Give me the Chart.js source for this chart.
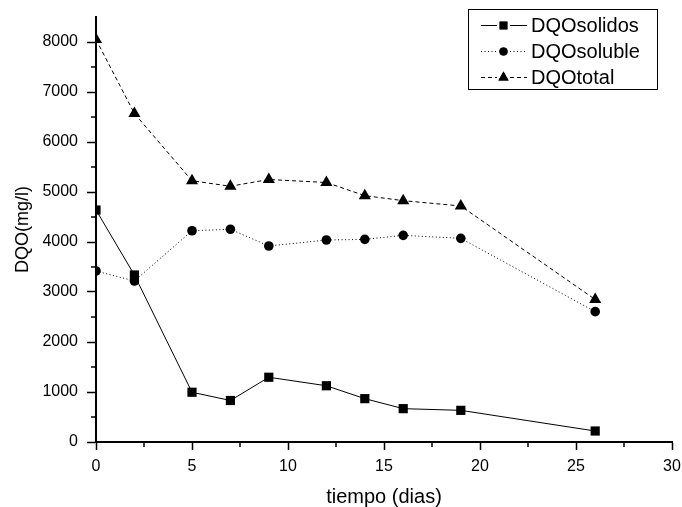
<!DOCTYPE html>
<html><head><meta charset="utf-8">
<script src="https://cdn.jsdelivr.net/npm/chart.js@4"></script>
<style>html,body{margin:0;padding:0;background:#fff;}#wrap{width:682px;height:507px;position:relative;}</style>
</head><body><div id="wrap"><canvas id="c"></canvas></div>
<script>
const days = [0, 2, 5, 7, 9, 12, 14, 16, 19, 26];
const dqoSolidos = [4640, 3340, 995, 830, 1295, 1125, 867, 667, 633, 220];
const dqoSoluble = [3420, 3220, 4225, 4255, 3920, 4040, 4053, 4133, 4073, 2607];
const dqoTotal = [8050, 6570, 5225, 5115, 5250, 5190, 4927, 4827, 4720, 2850];
const seriesNames = ['DQOsolidos', 'DQOsoluble', 'DQOtotal'];
const xTickValues = [0, 5, 10, 15, 20, 25, 30];
const yTickValues = [0, 1000, 2000, 3000, 4000, 5000, 6000, 7000, 8000];
const xTitle = 'tiempo (dias)';
const yTitle = 'DQO(mg/l)';

const FONT = "'Liberation Sans', Arial, sans-serif";
const toPts = ys => days.map((d, i) => ({x: d, y: ys[i]}));

const minorTicks = {
  id: 'minorTicks',
  afterDraw(chart) {
    const ctx = chart.ctx, xs = chart.scales.x, ys = chart.scales.y;
    const ca = chart.chartArea;
    ctx.save();
    ctx.strokeStyle = '#000';
    ctx.lineWidth = 1.5;
    ctx.beginPath();
    for (let v = 2.5; v < 30; v += 5) {
      const px = Math.round(xs.getPixelForValue(v));
      ctx.moveTo(px, ca.bottom); ctx.lineTo(px, ca.bottom + 5);
    }
    for (let v = 500; v < 8500; v += 1000) {
      const py = Math.round(ys.getPixelForValue(v));
      ctx.moveTo(ca.left, py); ctx.lineTo(ca.left - 5, py);
    }
    ctx.stroke();
    ctx.restore();
  }
};

const legendBox = {
  id: 'legendBox',
  afterDraw(chart) {
    const ctx = chart.ctx;
    ctx.save();
    const bx = 468.5, by = 9.5, bw = 189, bh = 80;
    ctx.fillStyle = '#fff';
    ctx.fillRect(bx, by, bw, bh);
    ctx.strokeStyle = '#000';
    ctx.lineWidth = 1;
    ctx.strokeRect(bx, by, bw, bh);
    const rows = [25, 51, 77];
    chart.data.datasets.forEach((ds, i) => {
      const y = rows[i] + 0.5;
      ctx.strokeStyle = '#000';
      ctx.lineWidth = 1;
      ctx.setLineDash(ds.borderDash || []);
      ctx.beginPath();
      ctx.moveTo(481, y); ctx.lineTo(497, y);
      ctx.moveTo(510, y); ctx.lineTo(527, y);
      ctx.stroke();
      ctx.setLineDash([]);
      ctx.fillStyle = '#000';
      Chart.helpers.drawPoint(ctx, {pointStyle: ds.pointStyle, radius: ds.pointRadius * 0.85, borderWidth: 0}, 503.5, y);
      ctx.fill();
      ctx.fillStyle = '#000';
      ctx.font = '20px ' + FONT;
      ctx.textBaseline = 'middle';
      ctx.textAlign = 'left';
      ctx.fillText(ds.label, 531, y + 1);
    });
    ctx.restore();
  }
};

new Chart(document.getElementById('c'), {
  type: 'line',
  data: {
    datasets: [
      {label: seriesNames[0], data: toPts(dqoSolidos), borderColor: '#000', backgroundColor: '#000', borderWidth: 1,
       pointStyle: 'rect', pointRadius: 6.5, pointBorderWidth: 0, tension: 0},
      {label: seriesNames[1], data: toPts(dqoSoluble), borderColor: '#000', backgroundColor: '#000', borderWidth: 1,
       borderDash: [1, 2.5], pointStyle: 'circle', pointRadius: 4.8, pointBorderWidth: 0, tension: 0},
      {label: seriesNames[2], data: toPts(dqoTotal), borderColor: '#000', backgroundColor: '#000', borderWidth: 1,
       borderDash: [4, 3], pointStyle: 'triangle', pointRadius: 7, pointBorderWidth: 0, tension: 0}
    ]
  },
  options: {
    responsive: true,
    maintainAspectRatio: false,
    animation: false,
    events: [],
    layout: {padding: {top: 17, right: 10, left: 0, bottom: 0}},
    plugins: {legend: {display: false}, tooltip: {enabled: false}},
    scales: {
      x: {
        type: 'linear', min: 0, max: 30,
        afterBuildTicks: s => { s.ticks = xTickValues.map(v => ({value: v})); },
        afterFit: s => { s.height = 65; s.paddingRight = 0; s.paddingLeft = 0; },
        grid: {drawOnChartArea: false, tickLength: 8, tickColor: '#000', tickWidth: 1.5},
        border: {display: true, color: '#000', width: 2},
        ticks: {color: '#000', font: {family: FONT, size: 16}, padding: 7, maxRotation: 0,
                callback: v => String(v)},
        title: {display: true, text: xTitle, color: '#000', font: {family: FONT, size: 20, lineHeight: 1}, padding: {top: 0, bottom: 0}}
      },
      y: {
        type: 'linear', min: 0, max: 8500,
        afterBuildTicks: s => { s.ticks = yTickValues.map(v => ({value: v})); },
        afterFit: s => { s.width = 96; s.paddingTop = 0; s.paddingBottom = 0; },
        grid: {drawOnChartArea: false, tickLength: 9, tickColor: '#000', tickWidth: 1.5},
        border: {display: true, color: '#000', width: 2},
        ticks: {color: '#000', font: {family: FONT, size: 16}, padding: 9,
                callback: v => String(v)},
        title: {display: true, text: yTitle, color: '#000', font: {family: FONT, size: 18}, padding: {top: 12, bottom: 0}}
      }
    }
  },
  plugins: [minorTicks, legendBox]
});
</script></body></html>
